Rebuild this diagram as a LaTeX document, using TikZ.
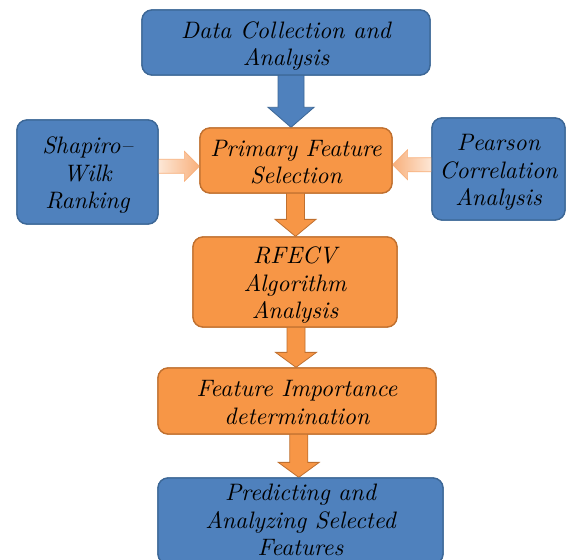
\documentclass[tikz,border=0pt]{standalone}
\usetikzlibrary{calc}
\definecolor{boxblue}{HTML}{4F81BD}
\definecolor{lineblue}{HTML}{3C6796}
\definecolor{boxorange}{HTML}{F79646}
\definecolor{lineorange}{HTML}{C0702F}
\definecolor{paleorange}{HTML}{FDE7D6}
\definecolor{tiporange}{HTML}{F8B07C}

% box label: 10pt italic text, enlarged as a whole and set a little low (#1 = drop)
\newcommand\boxlabel[2][-1.6pt]{\scalebox{2.38}{\raisebox{#1}[\height][\depth]{\fontsize{10}{11.6}\selectfont\itshape
  \begin{tabular}{@{}c@{}}#2\end{tabular}}}}

% block arrow pointing down: #1 source, #2 target, #3 half shaft, #4 half head, #5 head length, #6 style
\newcommand\blockdown[6]{%
  \path[#6] let \p1=(#1.south), \p2=(#2.north), \p3=($(\p1)!0.5!(\p2)$) in
    (\x3-#3,\y1+1pt) -- (\x3-#3,\y2+#5) -- (\x3-#4,\y2+#5) -- (\x3,\y2)
    -- (\x3+#4,\y2+#5) -- (\x3+#3,\y2+#5) -- (\x3+#3,\y1+1pt) -- cycle;}
% block arrow pointing right
\newcommand\blockright[6]{%
  \path[#6] let \p1=(#1.east), \p2=(#2.west), \p3=($(\p1)!0.5!(\p2)$) in
    (\x1,\y3+#3) -- (\x2-#5,\y3+#3) -- (\x2-#5,\y3+#4) -- (\x2,\y3)
    -- (\x2-#5,\y3-#4) -- (\x2-#5,\y3-#3) -- (\x1,\y3-#3) -- cycle;}
% block arrow pointing left
\newcommand\blockleft[6]{%
  \path[#6] let \p1=(#1.west), \p2=(#2.east), \p3=($(\p1)!0.5!(\p2)$) in
    (\x1,\y3+#3) -- (\x2+#5,\y3+#3) -- (\x2+#5,\y3+#4) -- (\x2,\y3)
    -- (\x2+#5,\y3-#4) -- (\x2+#5,\y3-#3) -- (\x1,\y3-#3) -- cycle;}

\begin{document}
\begin{tikzpicture}[x=1pt,y=-1pt,
  box/.style={rounded corners=10pt, line width=1.3pt, inner sep=0pt, align=center},
  bluebox/.style={box, fill=boxblue, draw=lineblue},
  orangebox/.style={box, fill=boxorange, draw=lineorange},
  bluearrow/.style={fill=boxblue, draw=lineblue, line width=0.8pt},
  orangearrow/.style={fill=boxorange, draw=lineorange, line width=0.8pt},
  sidearrowR/.style={left color=paleorange, right color=tiporange, draw=tiporange, line width=0.6pt},
  sidearrowL/.style={left color=tiporange, right color=paleorange, draw=tiporange, line width=0.6pt}]

  \fill[white] (0,0) rectangle (575,559);
  \useasboundingbox (0,0) rectangle (575,559);

  % node placement (boxes drawn again after arrows)
  \path
    (286,42.5) node[bluebox, minimum width=288pt, minimum height=65pt] (data) {\boxlabel{Data Collection and\\Analysis}}
    (296,160.5) node[orangebox, minimum width=192pt, minimum height=65pt] (primary) {\boxlabel{Primary Feature\\Selection}}
    (87.5,172) node[bluebox, minimum width=141pt, minimum height=104pt] (shapiro) {\boxlabel{Shapiro--\\Wilk\\Ranking}}
    (498.5,169) node[bluebox, minimum width=133pt, minimum height=102pt] (pearson) {\boxlabel{Pearson\\Correlation\\Analysis}}
    (295,282) node[orangebox, minimum width=204pt, minimum height=90pt] (rfecv) {\boxlabel{RFECV\\Algorithm\\Analysis}}
    (297,401) node[orangebox, minimum width=278pt, minimum height=66pt] (importance) {\boxlabel{Feature Importance\\determination}}
    (300.5,521) node[bluebox, minimum width=285pt, minimum height=86pt] (predict) {\boxlabel[-0.7pt]{Predicting and\\Analyzing Selected\\Features}};

  % connectors
  \blockdown{data}{primary}{13pt}{23pt}{20pt}{bluearrow}
  \blockdown{primary}{rfecv}{9pt}{20.5pt}{17pt}{orangearrow}
  \blockdown{rfecv}{importance}{9pt}{20.5pt}{15pt}{orangearrow}
  \blockdown{importance}{predict}{9pt}{20.5pt}{15pt}{orangearrow}
  \blockright{shapiro}{primary}{7pt}{15pt}{15pt}{sidearrowR}
  \blockleft{pearson}{primary}{7pt}{15pt}{15pt}{sidearrowL}

  % boxes on top of the arrow ends
  \path
    (286,42.5) node[bluebox, minimum width=288pt, minimum height=65pt] {\boxlabel{Data Collection and\\Analysis}}
    (296,160.5) node[orangebox, minimum width=192pt, minimum height=65pt] {\boxlabel{Primary Feature\\Selection}}
    (87.5,172) node[bluebox, minimum width=141pt, minimum height=104pt] {\boxlabel{Shapiro--\\Wilk\\Ranking}}
    (498.5,169) node[bluebox, minimum width=133pt, minimum height=102pt] {\boxlabel{Pearson\\Correlation\\Analysis}}
    (295,282) node[orangebox, minimum width=204pt, minimum height=90pt] {\boxlabel{RFECV\\Algorithm\\Analysis}}
    (297,401) node[orangebox, minimum width=278pt, minimum height=66pt] {\boxlabel{Feature Importance\\determination}}
    (300.5,521) node[bluebox, minimum width=285pt, minimum height=86pt] {\boxlabel[-0.7pt]{Predicting and\\Analyzing Selected\\Features}};
\end{tikzpicture}
\end{document}
